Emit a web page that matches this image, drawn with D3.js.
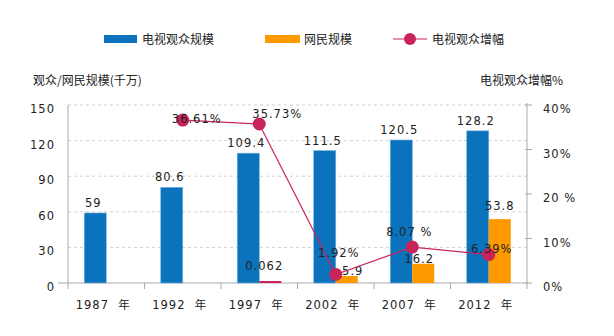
<!DOCTYPE html>
<html>
<head>
<meta charset="utf-8">
<script src="https://cdn.jsdelivr.net/npm/d3@7"></script>
<style>
  body { margin: 0; background: #fff; }
  text { font-family: "DejaVu Sans", "Noto Sans CJK SC", sans-serif; fill: #222; }
  .cjk { font-family: "Noto Sans CJK SC", sans-serif; }
</style>
</head>
<body>
<div id="vis"></div>
<script>
// chart data
const years = ['1987', '1992', '1997', '2002', '2007', '2012']
const tvAudience = [59, 80.6, 109.4, 111.5, 120.5, 128.2]
const netUsers = [null, null, 0.062, 5.9, 16.2, 53.8]
const tvGrowth = [null, 36.61, 35.73, 1.92, 8.07, 6.39]
const tvGrowthLabels = ['', '36.61%', '35.73%', '1.92%', '8.07 %', '6.39%']
const leftTicks = [0, 30, 60, 90, 120, 150]
const rightTicks = [0, 10, 20, 30, 40]
const rightTickLabels = ['0%', '10%', '20 %', '30%', '40%']

;(function() {
  const svg_width = 614,
        svg_height = 336,
        svg = d3.select('#vis').append('svg')

  svg.attr('width', svg_width).attr('height', svg_height)

  const blue = '#0b72bc',
        orange = '#ff9900',
        crimson = '#c9245a'

  const left = 68, right = 527, top = 105, bottom = 283

  const x = d3.scaleBand().domain(years).range([left, right])
  const y = d3.scaleLinear().domain([0, 150]).range([bottom, top])
  const y2 = d3.scaleLinear().domain([0, 40]).range([bottom, top])
  const barW = 22

  // gridlines
  svg.append('g').selectAll('line')
    .data(leftTicks.filter(d => d > 0))
    .join('line')
    .attr('x1', left).attr('x2', right)
    .attr('y1', d => y(d)).attr('y2', d => y(d))
    .attr('stroke', '#cfcfcf')
    .attr('stroke-dasharray', '3,3')

  // left axis
  const axL = svg.append('g')
  axL.append('line').attr('x1', left).attr('x2', left).attr('y1', top).attr('y2', bottom).attr('stroke', '#aaa')
  axL.selectAll('text').data(leftTicks).join('text')
    .attr('x', 55).attr('y', d => y(d) + 8)
    .attr('text-anchor', 'end')
    .attr('font-size', 11.5)
    .attr('letter-spacing', 1)
    .text(d => d)

  // right axis
  const axR = svg.append('g')
  axR.append('line').attr('x1', right).attr('x2', right).attr('y1', top - 2).attr('y2', bottom).attr('stroke', '#aaa')
  axR.selectAll('line.t').data(rightTicks).join('line')
    .attr('class', 't')
    .attr('x1', right - 2).attr('x2', right + 5)
    .attr('y1', d => y2(d)).attr('y2', d => y2(d))
    .attr('stroke', '#aaa')
  axR.selectAll('text').data(rightTicks).join('text')
    .attr('x', 543).attr('y', d => y2(d) + 8)
    .attr('font-size', 11.5)
    .attr('letter-spacing', 1)
    .text((d, i) => rightTickLabels[i])

  // x axis
  const axX = svg.append('g')
  axX.append('line').attr('x1', 58).attr('x2', right).attr('y1', bottom).attr('y2', bottom).attr('stroke', '#aaa')
  axX.selectAll('line.t').data(years.concat(['end'])).join('line')
    .attr('class', 't')
    .attr('x1', (d, i) => left + i * x.bandwidth())
    .attr('x2', (d, i) => left + i * x.bandwidth())
    .attr('y1', bottom).attr('y2', bottom + 6)
    .attr('stroke', '#aaa')
  axX.selectAll('text').data(years).join('text')
    .attr('x', d => x(d) + x.bandwidth() / 2 - 3)
    .attr('y', 309)
    .attr('text-anchor', 'middle')
    .attr('font-size', 11.5)
    .attr('letter-spacing', 1)
    .attr('xml:space', 'preserve')
    .text(d => d + '  年')

  // bars
  const cx = d => x(d) + x.bandwidth() / 2
  svg.append('g').selectAll('rect')
    .data(years)
    .join('rect')
    .attr('x', d => cx(d) - barW)
    .attr('width', barW)
    .attr('y', (d, i) => y(tvAudience[i]))
    .attr('height', (d, i) => bottom - y(tvAudience[i]))
    .attr('fill', blue)
    .attr('stroke', '#6fb0e0').attr('stroke-width', 0.6)

  svg.append('g').selectAll('rect')
    .data(years.map((d, i) => ({ year: d, v: netUsers[i] })).filter(d => d.v != null))
    .join('rect')
    .attr('x', d => cx(d.year))
    .attr('width', barW)
    .attr('y', d => Math.min(y(d.v), bottom - 2))
    .attr('height', d => Math.max(bottom - y(d.v), 2))
    .attr('fill', d => d.v < 1 ? crimson : orange)

  // bar labels
  svg.append('g').selectAll('text')
    .data(years)
    .join('text')
    .attr('x', d => cx(d) - barW / 2 - 2)
    .attr('y', (d, i) => y(tvAudience[i]) - 6)
    .attr('text-anchor', 'middle')
    .attr('font-size', 11.5)
    .attr('letter-spacing', 1)
    .text((d, i) => tvAudience[i])

  const netLabelShift = { '0.062': [-6, -10], '5.9': [6, 0], '16.2': [-4, 0], '53.8': [0, -8] }
  svg.append('g').selectAll('text')
    .data(years.map((d, i) => ({ year: d, v: netUsers[i] })).filter(d => d.v != null))
    .join('text')
    .attr('x', d => cx(d.year) + barW / 2 + netLabelShift[d.v][0])
    .attr('y', d => Math.min(y(d.v), bottom - 2) + netLabelShift[d.v][1] - 1)
    .attr('text-anchor', 'middle')
    .attr('font-size', 11.5)
    .attr('letter-spacing', 1)
    .text(d => d.v)

  // growth line
  const pts = years.map((d, i) => ({ year: d, v: tvGrowth[i], label: tvGrowthLabels[i] })).filter(d => d.v != null)
  const line = d3.line().x(d => cx(d.year)).y(d => y2(d.v))
  svg.append('path')
    .attr('d', line(pts))
    .attr('fill', 'none')
    .attr('stroke', crimson)
    .attr('stroke-width', 1.2)
  svg.append('g').selectAll('circle')
    .data(pts)
    .join('circle')
    .attr('cx', d => cx(d.year))
    .attr('cy', d => y2(d.v))
    .attr('r', 6.5)
    .attr('fill', crimson)

  // growth labels (offsets relative to the point)
  const growthShift = [null, [14, 3], [18, -6], [3, -17], [-3, -11], [3, -2]]
  svg.append('g').selectAll('text')
    .data(pts)
    .join('text')
    .attr('x', d => cx(d.year) + growthShift[years.indexOf(d.year)][0])
    .attr('y', d => y2(d.v) + growthShift[years.indexOf(d.year)][1])
    .attr('text-anchor', 'middle')
    .attr('font-size', 11.5)
    .attr('letter-spacing', 1)
    .text(d => d.label)

  // axis titles
  svg.append('text').attr('class', 'cjk')
    .attr('x', 33).attr('y', 85)
    .attr('font-size', 12)
    .text('观众/网民规模(千万)')
  svg.append('text').attr('class', 'cjk')
    .attr('x', 563).attr('y', 85)
    .attr('text-anchor', 'end')
    .attr('font-size', 12)
    .text('电视观众增幅%')

  // legend
  const lg = svg.append('g')
  lg.append('rect').attr('x', 104).attr('y', 35).attr('width', 33).attr('height', 8).attr('fill', blue)
  lg.append('text').attr('class', 'cjk').attr('x', 142).attr('y', 44).attr('font-size', 12).text('电视观众规模')
  lg.append('rect').attr('x', 265).attr('y', 35).attr('width', 35).attr('height', 8).attr('fill', orange)
  lg.append('text').attr('class', 'cjk').attr('x', 304).attr('y', 44).attr('font-size', 12).text('网民规模')
  lg.append('line').attr('x1', 393).attr('x2', 427).attr('y1', 39).attr('y2', 39).attr('stroke', crimson).attr('stroke-width', 1.2)
  lg.append('circle').attr('cx', 410).attr('cy', 39).attr('r', 6).attr('fill', crimson)
  lg.append('text').attr('class', 'cjk').attr('x', 432).attr('y', 44).attr('font-size', 12).text('电视观众增幅')
}())
</script>
</body>
</html>
